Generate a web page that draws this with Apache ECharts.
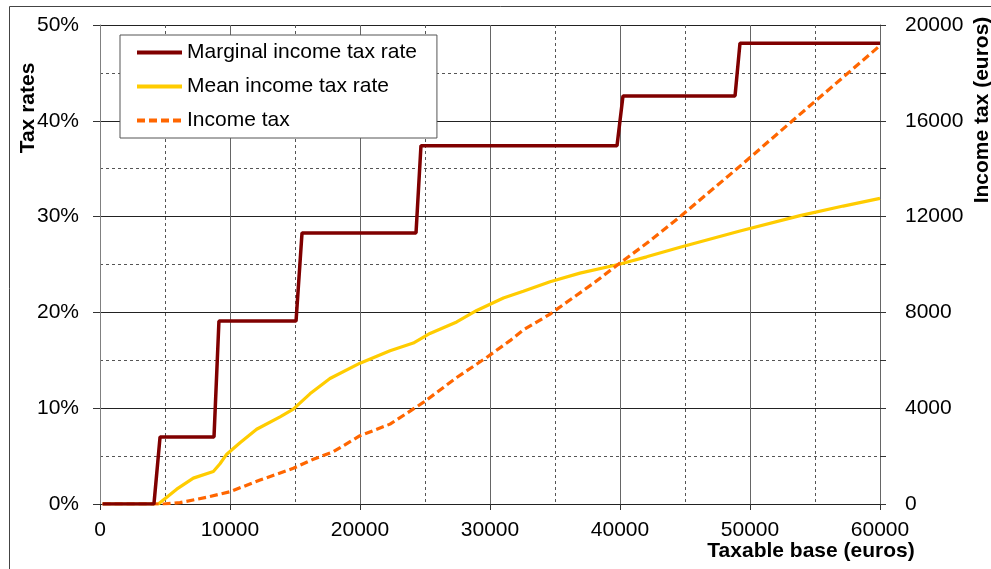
<!DOCTYPE html>
<html><head><meta charset="utf-8">
<script src="https://cdn.jsdelivr.net/npm/echarts@6/dist/echarts.min.js"></script>
<style>html,body{margin:0;padding:0;background:#fff}#c{width:991px;height:569px}</style>
</head><body><div id="c"></div>
<script>
const FONT = '"Liberation Sans", Arial, sans-serif';
const seriesNames = ['Marginal income tax rate', 'Mean income tax rate', 'Income tax'];
const xAxisTitle = 'Taxable base (euros)';
const leftAxisTitle = 'Tax rates';
const rightAxisTitle = 'Income tax (euros)';

// Marginal income tax rate (%) vs taxable base (euros)
const marginalBase = [200, 4150, 4620, 8770, 9150, 15080, 15540, 24310, 24690, 39770, 40230, 48850, 49230, 60000];
const marginalRate = [0, 0, 7.0, 7.0, 19.1, 19.1, 28.3, 28.3, 37.4, 37.4, 42.6, 42.6, 48.1, 48.1];

// Mean income tax rate (%)
const meanBase = [200, 4490, 5900, 7180, 8720, 9230, 9750, 10770, 12050, 13850, 14870, 16150, 17690, 20000, 22310, 24100, 25380, 27440, 28980, 31030, 32560, 34620, 36920, 39870, 42050, 44620, 49230, 53850, 57170, 60000];
const meanRate = [0, 0, 1.55, 2.7, 3.4, 4.2, 5.2, 6.4, 7.8, 9.1, 9.9, 11.5, 13.1, 14.7, 16.0, 16.8, 17.8, 19.0, 20.2, 21.5, 22.2, 23.2, 24.1, 25.0, 25.8, 26.8, 28.5, 30.1, 31.1, 31.9];

// Income tax (euros)
const taxBase = [200, 4870, 6150, 8210, 10000, 12310, 14870, 16410, 17950, 20000, 22310, 24870, 27440, 29740, 31540, 32560, 34620, 37950, 39870, 42050, 44620, 49490, 53330, 56920, 60000];
const taxAmount = [0, 0, 58, 280, 514, 1000, 1490, 1870, 2184, 2850, 3335, 4240, 5280, 6120, 6820, 7265, 7930, 9215, 10008, 10885, 11996, 14225, 16033, 17704, 19140];

const zip = (a, b) => a.map((v, i) => [v, b[i]]);
const plain = v => String(v);

const chart = echarts.init(document.getElementById('c'));
chart.setOption({
  animation: false,
  backgroundColor: '#fff',
  textStyle: { fontFamily: FONT },
  grid: { left: 100, right: 111, top: 25, bottom: 65 },
  legend: {
    orient: 'vertical', left: 120, top: 35,
    padding: [7, 20, 7, 15],
    itemWidth: 45, itemHeight: 20, itemGap: 13,
    backgroundColor: '#fff', borderColor: '#555', borderWidth: 1,
    itemStyle: { opacity: 0 },
    lineStyle: { width: 4 },
    textStyle: { fontSize: 21, color: '#000', fontFamily: FONT, lineHeight: 20 },
    data: seriesNames
  },
  xAxis: {
    type: 'value', min: 0, max: 60000, interval: 10000,
    axisLine: { show: true, lineStyle: { color: '#222', width: 1 } },
    axisTick: { show: true, length: 6, lineStyle: { color: '#333' } },
    axisLabel: { fontSize: 21, color: '#000', margin: 16, fontFamily: FONT, formatter: plain },
    splitLine: { show: true, lineStyle: { color: '#666', width: 1 } },
    minorTick: { show: false, splitNumber: 2 },
    minorSplitLine: { show: true, lineStyle: { color: '#555', width: 1, type: [3, 3] } }
  },
  yAxis: [{
    type: 'value', min: 0, max: 50, interval: 10,
    axisLine: { show: true, lineStyle: { color: '#808080' } },
    axisTick: { show: true, length: 7, lineStyle: { color: '#333' } },
    axisLabel: { fontSize: 21, color: '#000', margin: 21, formatter: '{value}%', fontFamily: FONT },
    splitLine: { show: true, lineStyle: { color: '#222', width: 1 } },
    minorTick: { show: false, splitNumber: 2 },
    minorSplitLine: { show: true, lineStyle: { color: '#555', width: 1, type: [3, 3] } }
  }, {
    type: 'value', min: 0, max: 20000, interval: 4000, position: 'right',
    axisLine: { show: true, lineStyle: { color: '#666' } },
    axisTick: { show: true, length: 6, lineStyle: { color: '#333' } },
    minorTick: { show: true, splitNumber: 2, length: 6, lineStyle: { color: '#333' } },
    axisLabel: { fontSize: 21, color: '#000', margin: 25, fontFamily: FONT, formatter: plain },
    splitLine: { show: false }
  }],
  series: [{
    name: seriesNames[0], type: 'line', yAxisIndex: 0, symbol: 'none',
    data: zip(marginalBase, marginalRate),
    lineStyle: { color: '#800000', width: 3.5 }, itemStyle: { color: '#800000' }, z: 4
  }, {
    name: seriesNames[1], type: 'line', yAxisIndex: 0, symbol: 'none',
    data: zip(meanBase, meanRate),
    lineStyle: { color: '#FFCC00', width: 3.2 }, itemStyle: { color: '#FFCC00' }, z: 3
  }, {
    name: seriesNames[2], type: 'line', yAxisIndex: 1, symbol: 'none',
    data: zip(taxBase, taxAmount),
    lineStyle: { color: '#FF6600', width: 3.2, type: [8, 4] }, itemStyle: { color: '#FF6600' }, z: 3
  }],
  graphic: [
    { type: 'rect', silent: true, z: 100, shape: { x: 9.5, y: 6.5, width: 1100, height: 700 }, style: { fill: 'none', stroke: '#444', lineWidth: 1 } },
    { type: 'text', x: 28, y: 108, rotation: Math.PI / 2, style: { text: leftAxisTitle, fontSize: 21, fontWeight: 'bold', fontFamily: FONT, fill: '#000', align: 'center', verticalAlign: 'middle' } },
    { type: 'text', x: 982, y: 110, rotation: Math.PI / 2, style: { text: rightAxisTitle, fontSize: 21, fontWeight: 'bold', fontFamily: FONT, fill: '#000', align: 'center', verticalAlign: 'middle' } },
    { type: 'text', x: 811, y: 551, style: { text: xAxisTitle, fontSize: 21, fontWeight: 'bold', fontFamily: FONT, fill: '#000', align: 'center', verticalAlign: 'middle' } }
  ]
});
</script>
</body></html>
